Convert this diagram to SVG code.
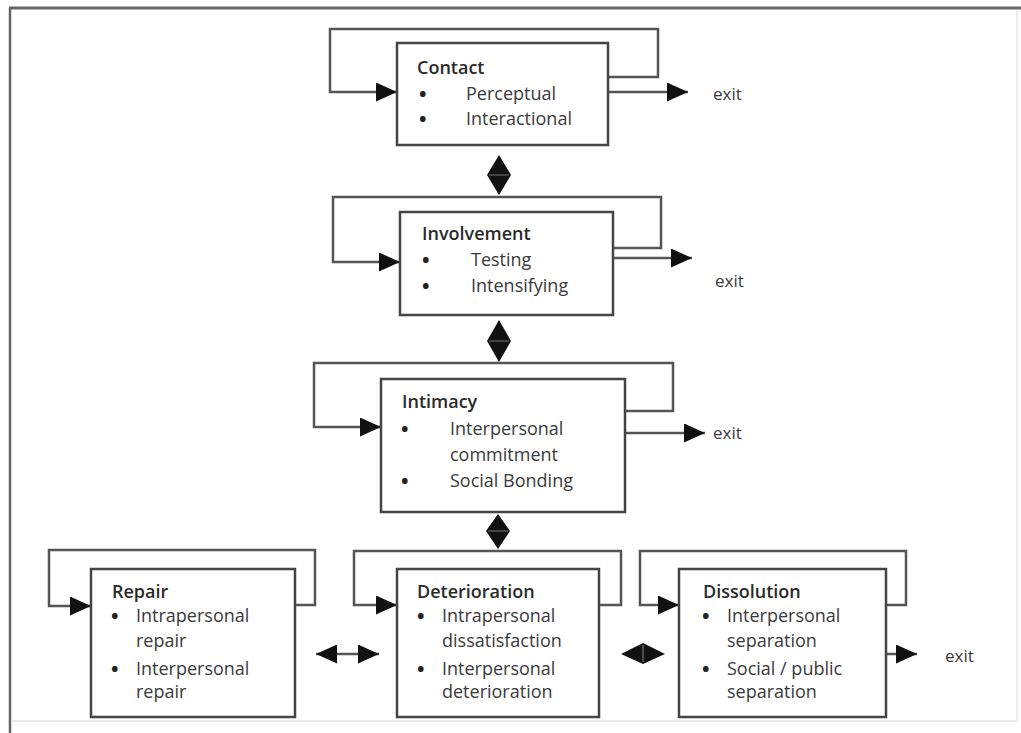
<svg xmlns="http://www.w3.org/2000/svg" width="1021" height="733" viewBox="0 0 1021 733">
<defs>
<marker id="ah" markerUnits="userSpaceOnUse" markerWidth="21" markerHeight="19" refX="21" refY="9.5" orient="auto-start-reverse" viewBox="0 0 21 19">
<path d="M0,0 L21,9.5 L0,19 Z" fill="#111"/>
</marker>
</defs>
<style>
.box{fill:#fff;stroke:#444;stroke-width:2.5}
.ln{fill:none;stroke:#555;stroke-width:2.5}
.ar{marker-end:url(#ah)}
.dia{fill:#111}
text{font-family:"Open Sans","DejaVu Sans",sans-serif;font-size:18px;fill:#3a3a3a}
.t{font-weight:600;fill:#2a2a2a}
.b{font-weight:700;font-size:20px;fill:#222}
.ex{font-size:17px}
</style>
<rect x="0" y="0" width="1021" height="733" fill="#fff"/>
<g id="frame">
<line x1="9" y1="8" x2="1021" y2="8" stroke="#666" stroke-width="3"/>
<line x1="10" y1="8" x2="10" y2="733" stroke="#666" stroke-width="2.5"/>
<line x1="1017" y1="10" x2="1017" y2="721" stroke="#e4e4e4" stroke-width="1.5"/>
<line x1="11" y1="721" x2="1017" y2="721" stroke="#e4e4e4" stroke-width="1.5"/>
</g>
<g id="connectors">
<path class="ln ar" d="M608,77 H658 V29 H330 V92 H397"/>
<path class="ln ar" d="M608,92 H688"/>
<path class="ln ar" d="M613,248 H661 V197 H333 V262 H400"/>
<path class="ln ar" d="M613,258 H692"/>
<path class="ln ar" d="M625,411 H673 V363 H314 V427 H381"/>
<path class="ln ar" d="M625,433 H705"/>
<path class="ln ar" d="M295,605 H315 V550 H49 V606 H91"/>
<path class="ln ar" d="M599,605 H621 V551 H354 V605 H397"/>
<path class="ln ar" d="M886,605 H906 V551 H640 V605 H679"/>
<path class="ln ar" d="M886,654 H917"/>
<path class="ln" d="M316,654 H379" marker-start="url(#ah)" marker-end="url(#ah)"/>
<path class="dia" d="M499,155 L511,175 L499,195 L487,175 Z"/>
<line x1="489" y1="175" x2="509" y2="175" stroke="#777" stroke-width="1"/>
<path class="dia" d="M499,320 L511,341 L499,362 L487,341 Z"/>
<line x1="489" y1="341" x2="509" y2="341" stroke="#777" stroke-width="1"/>
<path class="dia" d="M498,514 L510,531 L498,549 L486,531 Z"/>
<line x1="488" y1="531" x2="508" y2="531" stroke="#777" stroke-width="1"/>
<path class="dia" d="M621,654 L643,643 L665,654 L643,664 Z"/>
<line x1="643" y1="645" x2="643" y2="662" stroke="#888" stroke-width="1"/>
</g>
<g id="contact">
<rect class="box" x="397" y="43" width="211" height="102"/>
<text class="t" x="417" y="74">Contact</text>
<text class="b" x="419" y="101">•</text><text x="466" y="100">Perceptual</text>
<text class="b" x="419" y="126">•</text><text x="466" y="125">Interactional</text>
</g>
<g id="involvement">
<rect class="box" x="400" y="212" width="213" height="103"/>
<text class="t" x="422" y="240">Involvement</text>
<text class="b" x="422" y="267">•</text><text x="471" y="266">Testing</text>
<text class="b" x="422" y="293">•</text><text x="471" y="292">Intensifying</text>
</g>
<g id="intimacy">
<rect class="box" x="381" y="379" width="244" height="133"/>
<text class="t" x="402" y="408">Intimacy</text>
<text class="b" x="401" y="436">•</text><text x="450" y="435">Interpersonal</text>
<text x="450" y="461">commitment</text>
<text class="b" x="401" y="488">•</text><text x="450" y="487">Social Bonding</text>
</g>
<g id="repair">
<rect class="box" x="91" y="569" width="204" height="148"/>
<text class="t" x="112" y="598">Repair</text>
<text class="b" x="111" y="623">•</text><text x="136" y="622">Intrapersonal</text>
<text x="136" y="647">repair</text>
<text class="b" x="111" y="676">•</text><text x="136" y="675">Interpersonal</text>
<text x="136" y="698">repair</text>
</g>
<g id="deterioration">
<rect class="box" x="397" y="569" width="202" height="148"/>
<text class="t" x="417" y="598">Deterioration</text>
<text class="b" x="417" y="623">•</text><text x="442" y="622">Intrapersonal</text>
<text x="442" y="647">dissatisfaction</text>
<text class="b" x="417" y="676">•</text><text x="442" y="675">Interpersonal</text>
<text x="442" y="698">deterioration</text>
</g>
<g id="dissolution">
<rect class="box" x="679" y="569" width="207" height="148"/>
<text class="t" x="703" y="598">Dissolution</text>
<text class="b" x="702" y="623">•</text><text x="727" y="622">Interpersonal</text>
<text x="727" y="647">separation</text>
<text class="b" x="702" y="676">•</text><text x="727" y="675">Social / public</text>
<text x="727" y="698">separation</text>
</g>
<g id="exits">
<text class="ex" x="713" y="100">exit</text>
<text class="ex" x="715" y="287">exit</text>
<text class="ex" x="713" y="439">exit</text>
<text class="ex" x="945" y="662">exit</text>
</g>
</svg>
